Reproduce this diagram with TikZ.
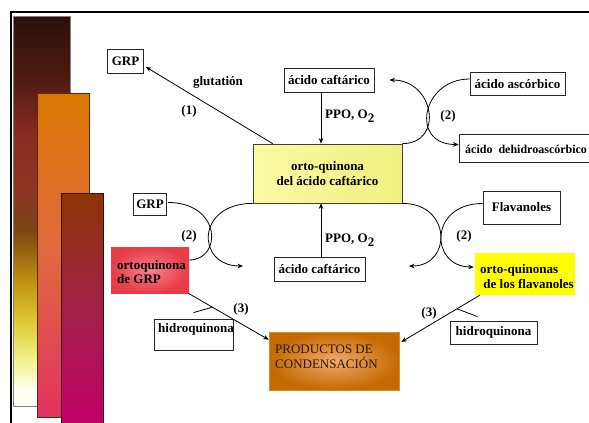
\documentclass[tikz,border=0pt]{standalone}
\usepackage{fontspec}
\setmainfont{Liberation Serif}
\usetikzlibrary{arrows.meta,calc}
\definecolor{b1a}{HTML}{2A1208}
\definecolor{b1b}{HTML}{4A1A10}
\definecolor{b1c}{HTML}{8A2A22}
\definecolor{b1d}{HTML}{8E3422}
\definecolor{b1e}{HTML}{7A4612}
\definecolor{b1f}{HTML}{C09010}
\definecolor{b1g}{HTML}{DCC830}
\definecolor{b1h}{HTML}{F2F28A}
\definecolor{b1i}{HTML}{FFFFF4}
\pgfdeclareverticalshading{barone}{100bp}{color(0bp)=(b1i); color(25bp)=(b1i); color(27bp)=(b1i); color(31bp)=(b1h); color(36bp)=(b1g); color(41bp)=(b1f); color(47.5bp)=(b1e); color(52.5bp)=(b1d); color(60bp)=(b1c); color(67.5bp)=(b1b); color(75bp)=(b1a); color(100bp)=(b1a)}
\tikzset{
  box/.style={draw=black!85, line width=0.8pt, fill=white, inner sep=0pt},
  conn/.style={line width=0.8pt, -{Stealth[length=5.5pt,width=4.5pt]}},
  plain/.style={line width=0.8pt},
  lab/.style={inner sep=0pt},
}
\begin{document}
\begin{tikzpicture}[x=1pt,y=-1pt,font=\bfseries\fontsize{13}{15}\selectfont]
\useasboundingbox (0,0) rectangle (589,423);
% decorative bars
\shade[shading=barone, draw=black!50, line width=0.8pt] (13,16) rectangle (70,406);
\shade[top color={rgb,255:red,216;green,120;blue,0}, bottom color={rgb,255:red,226;green,50;blue,96}, middle color={rgb,255:red,224;green,104;blue,64}, draw={rgb,255:red,90;green,40;blue,16}, line width=0.8pt] (37,93) rectangle (89,417);
\shade[top color={rgb,255:red,139;green,52;blue,4}, bottom color={rgb,255:red,192;green,0;blue,104}, middle color={rgb,255:red,162;green,32;blue,72}, draw={rgb,255:red,58;green,10;blue,10}, line width=0.8pt] (61,193) rectangle (103,425);
% frame
\draw[line width=2pt] (11,425) -- (11,12) -- (590,12);

% nodes
\node[box, minimum width=36, minimum height=24] (grp1) at (125.5,61) {GRP};
\node[box, minimum width=90, minimum height=24] (caf1) at (329,80) {ácido caftárico};
\node[box, minimum width=95, minimum height=23] (asc) at (517.5,84) {ácido ascórbico};
\node[box, minimum width=130, minimum height=28] (dh) at (524,148.5) {};
\node[lab, anchor=west, font=\bfseries\fontsize{12}{14}\selectfont] (dht) at (465,149) {ácido\ \ dehidroascórbico};
\node[box, draw=black!75, left color={rgb,255:red,250;green,250;blue,165}, right color={rgb,255:red,240;green,240;blue,128}, minimum width=149, minimum height=59, align=center] (yq) at (327.5,173.5) {orto-quinona\\del ácido caftárico};
\node[box, minimum width=33, minimum height=22] (grp2) at (150,204.5) {GRP};
\node[box, minimum width=91, minimum height=24] (caf2) at (319.5,269) {ácido caftárico};
\node[box, minimum width=77, minimum height=33] (flav) at (521.5,207.5) {Flavanoles};
\node[inner sep=0pt, inner color={rgb,255:red,242;green,130;blue,140}, outer color={rgb,255:red,232;green,60;blue,72}, minimum width=78, minimum height=46] (redq) at (150,270) {};
\node[lab, anchor=west, align=left, font=\bfseries\fontsize{13}{14}\selectfont] (redqt) at (117,272) {ortoquinona\\de GRP};
\node[inner sep=0pt, fill={rgb,255:red,255;green,255;blue,0}, minimum width=100, minimum height=42] (flq) at (525,274) {};
\node[lab, anchor=west, align=left] (flqt) at (480,276.5) {orto-quinonas\\\ de los flavanoles};
\node[box, minimum width=79, minimum height=31] (hq1) at (193.5,334.5) {};
\node[lab] (hq1t) at (196,329) {hidroquinona};
\node[box, minimum width=87, minimum height=23] (hq2) at (493.5,332.5) {hidroquinona};
\node[inner sep=0pt, draw={rgb,255:red,214;green,140;blue,50}, line width=0.6pt, inner color={rgb,255:red,242;green,170;blue,106}, outer color={rgb,255:red,196;green,106;blue,0}, minimum width=130, minimum height=58] (prod) at (334,361) {};
\node[lab, anchor=west, align=left, font=\mdseries\fontsize{13}{15}\selectfont, text={rgb,255:red,40;green,24;blue,0}] (prodt) at (275,357) {PRODUCTOS DE\\CONDENSACIÓN};

% labels
\node[lab] (lglut) at (218,82) {glutatión};
\node[lab] (l1) at (189,111) {(1)};
\node[lab, anchor=west] (ppo1) at (325,116) {PPO, O\raisebox{-4pt}{2}};
\node[lab] (l2a) at (448,116) {(2)};
\node[lab] (l2b) at (189,236) {(2)};
\node[lab, anchor=west] (ppo2) at (325,240) {PPO, O\raisebox{-4pt}{2}};
\node[lab] (l2c) at (464,236) {(2)};
\node[lab] (l3a) at (241,309) {(3)};
\node[lab] (l3b) at (429,313) {(3)};

% connectors
\draw[conn] ($(yq.north west)+(20,0)$) -- ($(grp1.east)+(2,6)$);
\coordinate (cafa) at ($(caf1.south)+(-8,0)$);
\draw[conn] (cafa) -- (cafa |- yq.north);
\coordinate (cafb) at ($(caf2.north)+(1.5,0)$);
\draw[conn] (cafb) -- (cafb |- yq.south);

\draw[conn] (yq.north east) .. controls +(42,0) and +(45,0) .. ($(caf1.east)+(15,0)$);
\draw[conn] ($(asc.west)+(0,-5)$) .. controls +(-48,0) and +(-49,0) .. ($(dh.west)+(0,-4)$);

\coordinate (tipD) at (243,266);
\coordinate (tipE) at (409,266);
\draw[plain] ($(grp2.east)+(1,-2)$) .. controls +(54,0) and +(33,0) .. ($(redq.east)+(0,-10)$);
\draw[conn] (yq.south west) .. controls +(-57,0) and +(-47,0) .. (tipD);
\draw[conn] (yq.south east) .. controls +(49.5,0) and +(43,0) .. (tipE);
\draw[conn] ($(flav.west)+(0,-4)$) .. controls +(-54,0) and +(-44,0) .. ($(flq.west)+(-1,-7)$);

\coordinate (s1) at ($(redq.south east)+(-1,0)$);
\coordinate (e1) at ($(prod.north west)+(0,8)$);
\draw[conn] (s1) -- (e1);
\draw[plain] ($(hq1.north)+(0,-6)$) -- ($(s1)!0.3!(e1)$);
\coordinate (s2) at ($(flq.south west)+(5,0)$);
\coordinate (e2) at ($(prod.east)+(2,-19)$);
\draw[conn] (s2) -- (e2);
\draw[plain] ($(hq2.north)+(-16,-4)$) -- ($(s2)!0.29!(e2)$);
\end{tikzpicture}
\end{document}
